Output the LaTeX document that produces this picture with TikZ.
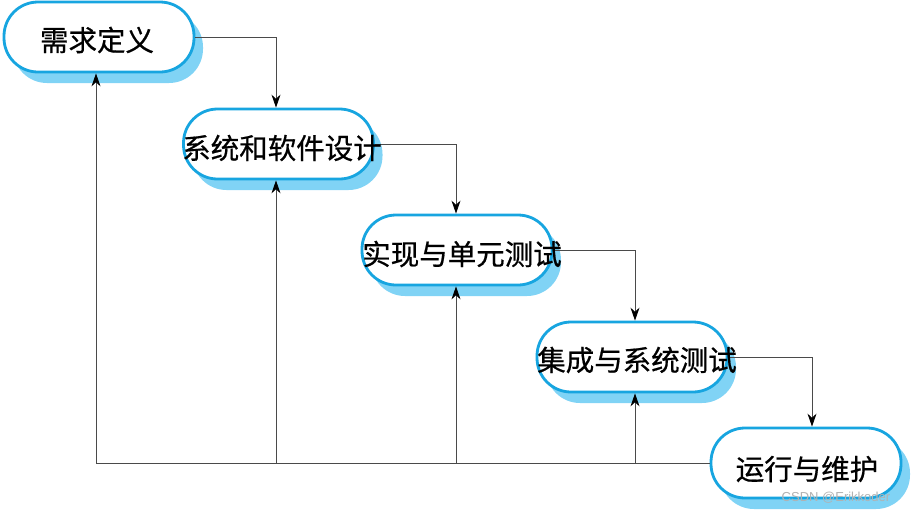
\documentclass[tikz,border=0pt]{standalone}
\usepackage{fontspec}
\newfontfamily\cjk[FakeBold=0.6]{Noto Sans CJK SC}
\setmainfont{Liberation Sans}
\usetikzlibrary{arrows.meta,shadows}
\definecolor{boxc}{HTML}{17A5E0}
\definecolor{shadc}{HTML}{80D3F5}
\definecolor{linec}{HTML}{4A4A4A}
\tikzset{
  stagebox/.style={draw=boxc, line width=2.8pt, fill=white, rounded corners=34pt,
    minimum width=190pt, minimum height=70pt, inner sep=0pt,
    drop shadow={shadow xshift=9pt, shadow yshift=-11pt, fill=shadc, opacity=1}},
  conn/.style={draw=linec, line width=0.9pt},
  arr/.style={conn, -{Stealth[length=13pt,width=9pt,color=black]}},
  lbl/.style={font=\cjk\fontsize{28.5}{31}\selectfont, inner sep=0pt},
}
\begin{document}
\begin{tikzpicture}[x=1pt,y=-1pt]
\useasboundingbox (0,0) rectangle (911,515);
\coordinate (f0) at (96,463);
\coordinate (f1) at (276,463);
\coordinate (f2) at (456,463);
\coordinate (f3) at (635,463);
\node[stagebox] (b1) at (99,37) {};
\node[stagebox] (b2) at (278.5,144) {};
\node[stagebox] (b3) at (457,250) {};
\node[stagebox] (b4) at (632,357) {};
\node[stagebox] (b5) at (806,463) {};
\draw[arr] (b1.east) -| ([xshift=-2.5pt]b2.north);
\draw[arr] (b2.east) -| ([xshift=-1pt]b3.north);
\draw[arr] (b3.east) -| ([xshift=3pt]b4.north);
\draw[arr] (b4.east) -| ([xshift=6pt]b5.north);
\draw[conn] (b5.west) -- (f0);
\draw[arr] (f0) -- (f0 |- b1.south);
\draw[arr] (f1) -- (f1 |- b2.south);
\draw[arr] (f2) -- (f2 |- b3.south);
\draw[arr] (f3) -- (f3 |- b4.south);
\node[lbl] (t1) at (97,40) {需求定义};
\node[lbl] (t2) at (282,148) {系统和软件设计};
\node[lbl] (t3) at (462,254) {实现与单元测试};
\node[lbl] (t4) at (637,360) {集成与系统测试};
\node[lbl] (t5) at (807,469) {运行与维护};
\node[font=\fontsize{13}{15}\selectfont, text=black!30, inner sep=0pt] (wm) at (836,498) {CSDN @Erikkoder};
\end{tikzpicture}
\end{document}
